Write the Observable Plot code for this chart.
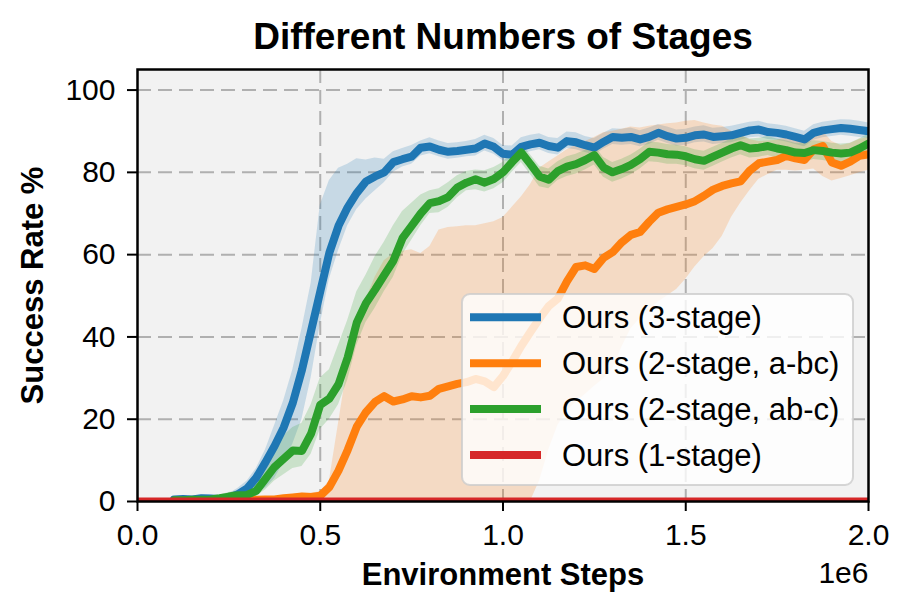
<!DOCTYPE html>
<html>
<head>
<meta charset="utf-8">
<script src="https://cdn.jsdelivr.net/npm/d3@7"></script>
<script src="https://cdn.jsdelivr.net/npm/@observablehq/plot@0.6"></script>
<style>
  body { margin: 0; background: #ffffff; }
  #chart { width: 913px; height: 616px; }
</style>
</head>
<body>
<div id="chart"></div>
<script>
// ---------- data (environment steps in units of 1e6, success rate in %) ----------
const steps = [
  0.1,0.125,0.15,0.175, 0.2,0.225,0.25,0.275, 0.3,0.325,0.35,0.375, 0.4,0.425,0.45,0.475,
  0.5,0.525,0.55,0.575, 0.6,0.625,0.65,0.675, 0.7,0.725,0.75,0.775, 0.8,0.825,0.85,0.875,
  0.9,0.925,0.95,0.975, 1.0,1.025,1.05,1.075, 1.1,1.125,1.15,1.175, 1.2,1.225,1.25,1.275,
  1.3,1.325,1.35,1.375, 1.4,1.425,1.45,1.475, 1.5,1.525,1.55,1.575, 1.6,1.625,1.65,1.675,
  1.7,1.725,1.75,1.775, 1.8,1.825,1.85,1.875, 1.9,1.925,1.95,1.975, 2.0
];

// Ours (3-stage)
const blueMean = [
  0.5,0.6,0.5,0.8, 0.7,0.6,0.9,1.8, 3.2,5.8,9.5,13.5, 18,24,32,41.5,
  51,60.5,67,71.5, 75,77.8,79,80, 82.5,83.2,83.8,86, 86.3,85.5,85,85.2,
  85.5,85.8,87,86.2, 84.5,84.3,86.2,86.8, 87.2,86.4,86,87.6, 87.3,86.6,86,87.4,
  88.6,88.4,88.6,88, 88.6,89.6,88.8,88.2, 88.4,89,89.2,88.6, 88.8,89,89.6,90.2,
  90.4,89.8,89.6,89.2, 88.6,88,89.6,90.2, 90.5,90.8,90.6,90.3, 90
];
const blueLo = [
  0,0,0,0, 0,0,0.2,0.7, 1.2,2,3.2,5.5, 9.5,14,20,30,
  43,54,61,67, 71,73.5,75.5,77.5, 80,81.3,82,84, 84.5,83.8,83.2,83.4,
  83.8,84,85.2,84.4, 82.8,82.6,84.4,85, 85.5,84.6,84.2,85.8, 85.5,84.8,84.2,85.6,
  86.8,86.6,86.8,86.2, 86.8,87.8,87,86.4, 86.6,87.2,87.4,86.8, 87,87.2,87.8,88.4,
  88.6,88,87.8,87.4, 86.8,86.2,87.8,88.4, 88.7,89,88.8,88.5, 88.2
];
const blueHi = [
  1.2,1.3,1.2,1.6, 1.5,1.3,1.8,3.2, 5,8,12.5,18.5, 24.5,32,42,53,
  72,78,81,82, 83.3,83,83.5,83.2, 85,85.8,86.5,87.6, 88.4,87.6,87,87.2,
  87.5,88,89,88.2, 86.5,86.4,88.4,89, 89.4,88.5,88.2,89.8, 89.6,88.7,88.2,89.5,
  90.6,90.5,90.8,90.1, 90.8,91.6,91,90.3, 90.5,91,91.3,90.7, 90.9,91.2,91.7,92.2,
  92.4,91.8,91.6,91.2, 90.6,90,91.6,92.2, 92.5,92.8,92.7,92.4, 92
];

// Ours (2-stage, a-bc)
const orangeMean = [
  0.2,0.2,0.2,0.3, 0.3,0.3,0.3,0.4, 0.4,0.4,0.5,0.5, 0.8,1,1.2,1.1,
  1.4,3.5,7.5,12.5, 18.2,21.7,24.2,25.6, 24.3,24.8,25.6,25.3, 25.7,27.4,28,28.6,
  29,29.8,29.2,27.8, 30.5,34,37.8,41.2, 44.5,47.5,49.3,53.5, 57,57.4,56.5,59.2,
  60.6,63,64.8,65.5, 68,70.2,71,71.6, 72.2,73,74.3,75.8, 76.7,77.3,77.8,80.4,
  82.2,82.6,83,84, 83.4,83,85.6,86.4, 82.4,81.6,82.6,84, 84.4
];
const orangeLo = [
  0,0,0,0, 0,0,0,0, 0,0,0,0, 0,0,0,0,
  0,0,0,0, 0,0,0,0, 0,0,0,0, 0,0,0,0,
  0,0,0,0, 0,0,0,0, 5,12.5,18.5,22, 24.2,26,28,29.8,
  32.2,37.5,42,44.5, 46.5,48.5,50,51.5, 54,57,59.5,61.5, 64.5,69,72.5,75.5,
  78.3,79.5,80.5,80.5, 80.3,80.5,80.8,79, 77.9,78.5,79.2,79.9, 80.5
];
const orangeHi = [
  0.5,0.5,0.5,0.6, 0.6,0.6,0.7,0.8, 0.8,0.9,1,1, 1.4,1.7,2,2,
  2.4,5,19,33, 42.5,49,54.5,58.5, 60.2,60.8,61.2,60.3, 62,66,66.6,66.8,
  67,67,67.5,68, 69,71.5,74,77, 81,82.5,84,85.5, 86.5,87.5,88.5,89.6,
  90,90.5,91,90.8, 91.2,91.5,91.8,92, 92.4,92.6,92,91.5, 91.2,90,89,88,
  87.5,87.6,87.8,88.5, 88,88,89.2,90, 87.5,86.5,87,88, 88.5
];

// Ours (2-stage, ab-c)
const greenMean = [
  0.3,0.3,0.4,0.4, 0.5,0.8,1.2,1.5, 1.6,2.6,5.5,8.4, 10.4,12.4,12.3,16.5,
  23.5,25,28.5,35, 43.5,48.2,51.5,55, 58.5,64,67,70, 72.5,73,74,76.3,
  77.5,78.3,77.5,78.4, 80,82.5,84.8,82, 79,78.2,80.3,81.4, 82,83,84.2,81.2,
  80,80.8,81.8,83.2, 85,84.8,84.4,84.3, 83.9,83.2,82.8,83.8, 84.8,85.8,86.6,85.8,
  86,86.4,85.8,85.4, 84.8,84.7,85.4,85.2, 84.8,84.6,84.8,85.8, 87
];
const greenLo = [
  0,0,0,0, 0,0.1,0.4,0.6, 0.7,1.2,2.8,5, 6.5,8,8.5,11.5,
  17.5,20,23.5,29.5, 38,43.5,47,51, 54.5,60,63.5,67, 70,70.2,71.5,73.8,
  75.5,75.8,75.2,76, 77.5,80,82.4,79.5, 76.5,76,78,79, 79.6,80.6,81.8,78.8,
  77.6,78.4,79.4,80.8, 82.6,82.4,82,82, 81.6,80.9,80.5,81.5, 82.5,83.5,84.3,83.5,
  83.7,84.1,83.5,83.1, 82.5,82.4,83.1,82.9, 82.5,82.3,82.5,83.5, 84.7
];
const greenHi = [
  0.8,0.8,0.9,1, 1.2,1.6,2.2,2.6, 3,5,9,12.5, 16,18,19,23.5,
  30,32,38,44, 51,55,59.5,63, 67,70.5,72.5,74.5, 75.5,76,77.5,79.2,
  80.2,80.6,80.4,81.2, 82.4,85,87,84.3, 81.5,80.8,82.6,83.8, 84.4,85.4,86.6,83.6,
  82.4,83.2,84.2,85.6, 87.4,87.2,86.8,86.6, 86.2,85.5,85.1,86.1, 87.1,88.1,88.9,88.1,
  88.3,88.7,88.1,87.7, 87.1,87,87.7,87.5, 87.1,86.9,87.1,88.1, 89.3
];

// Ours (1-stage)
const redSteps = [0, 2.0];
const redMean = [0, 0];

const seriesNames = ["Ours (3-stage)", "Ours (2-stage, a-bc)", "Ours (2-stage, ab-c)", "Ours (1-stage)"];
const seriesColors = ["#1f77b4", "#ff7f0e", "#2ca02c", "#d62728"];
const xTicks = [0, 0.5, 1.0, 1.5, 2.0];
const yTicks = [0, 20, 40, 60, 80, 100];
const titleText = "Different Numbers of Stages";
const xLabel = "Environment Steps";
const yLabel = "Success Rate %";
const xOffsetText = "1e6";

// ---------- build tables ----------
function rows(mean, lo, hi) {
  return steps.map((s, i) => ({step: s, mean: mean[i], lo: lo[i], hi: hi[i]}));
}
const series = [
  rows(blueMean, blueLo, blueHi),
  rows(orangeMean, orangeLo, orangeHi),
  rows(greenMean, greenLo, greenHi)
];
const redRows = redSteps.map((s, i) => ({step: s, mean: redMean[i]}));

const FONT = "'Liberation Sans', Arial, Helvetica, sans-serif";
const LW = 8;

const marks = [
  Plot.frame({fill: "#f2f2f2"}),
  Plot.gridX(xTicks.slice(1, -1), {stroke: "#b0b0b0", strokeOpacity: 1, strokeWidth: 2, strokeDasharray: "14,7"}),
  Plot.gridY(yTicks.slice(1), {stroke: "#b0b0b0", strokeOpacity: 1, strokeWidth: 2, strokeDasharray: "14,7"})
];
series.forEach((d, k) => {
  marks.push(Plot.areaY(d, {x: "step", y1: "lo", y2: "hi", fill: seriesColors[k], fillOpacity: 0.2, clip: true}));
});
series.forEach((d, k) => {
  marks.push(Plot.line(d, {x: "step", y: "mean", stroke: seriesColors[k], strokeWidth: LW, strokeLinejoin: "round", clip: true}));
});
marks.push(Plot.line(redRows, {x: "step", y: "mean", stroke: seriesColors[3], strokeWidth: LW, clip: true}));
marks.push(
  Plot.axisX(xTicks, {label: null, tickFormat: d3.format(".1f"), fontSize: 30, tickSize: 10, tickPadding: 12, stroke: "black", strokeWidth: 2, fill: "black"}),
  Plot.axisY(yTicks, {label: null, fontSize: 30, tickSize: 10, tickPadding: 12, stroke: "black", strokeWidth: 2, fill: "black"}),
  Plot.frame({stroke: "black", strokeWidth: 2.5}),
  Plot.text([titleText], {frameAnchor: "top", dy: -32, fontSize: 37, fontWeight: "bold", fill: "black", lineAnchor: "middle"}),
  Plot.text([xLabel], {frameAnchor: "bottom", dy: 74, fontSize: 31, fontWeight: "bold", fill: "black", lineAnchor: "middle"}),
  Plot.text([xOffsetText], {frameAnchor: "bottom-right", dy: 72, textAnchor: "end", fontSize: 30, fill: "black", lineAnchor: "middle"}),
  Plot.text([yLabel], {frameAnchor: "left", dx: -104, rotate: -90, textAnchor: "middle", fontSize: 31, fontWeight: "bold", fill: "black", lineAnchor: "middle"})
);

const plot = Plot.plot({
  width: 913,
  height: 616,
  marginLeft: 137,
  marginRight: 45,
  marginTop: 69,
  marginBottom: 115,
  x: {domain: [0, 2], label: null},
  y: {domain: [0, 105], label: null},
  style: {fontFamily: FONT, background: "#ffffff", color: "black", overflow: "visible"},
  marks
});

// ---------- legend (inside the axes, lower right) ----------
const xr = plot.scale("x").range;   // [left, right]
const yr = plot.scale("y").range;   // [bottom, top]
const svg = d3.select(plot);
const boxW = 391, boxH = 191;
const bx = xr[1] - 15 - boxW;
const by = yr[0] - 16 - boxH;
const lg = svg.append("g").attr("font-family", FONT).attr("text-anchor", "start");
lg.append("rect")
  .attr("x", bx).attr("y", by).attr("width", boxW).attr("height", boxH)
  .attr("rx", 8).attr("ry", 8)
  .attr("fill", "#ffffff").attr("fill-opacity", 0.8)
  .attr("stroke", "#cccccc").attr("stroke-opacity", 0.8).attr("stroke-width", 2);
seriesNames.forEach((name, i) => {
  const cy = by + 23.3 + i * 45.9;
  lg.append("line")
    .attr("x1", bx + 8).attr("x2", bx + 79).attr("y1", cy).attr("y2", cy)
    .attr("stroke", seriesColors[i]).attr("stroke-width", LW);
  lg.append("text")
    .attr("x", bx + 100).attr("y", cy + 11)
    .attr("font-size", 31).attr("fill", "black").attr("text-anchor", "start")
    .text(name);
});

document.getElementById("chart").appendChild(plot);
</script>
</body>
</html>
